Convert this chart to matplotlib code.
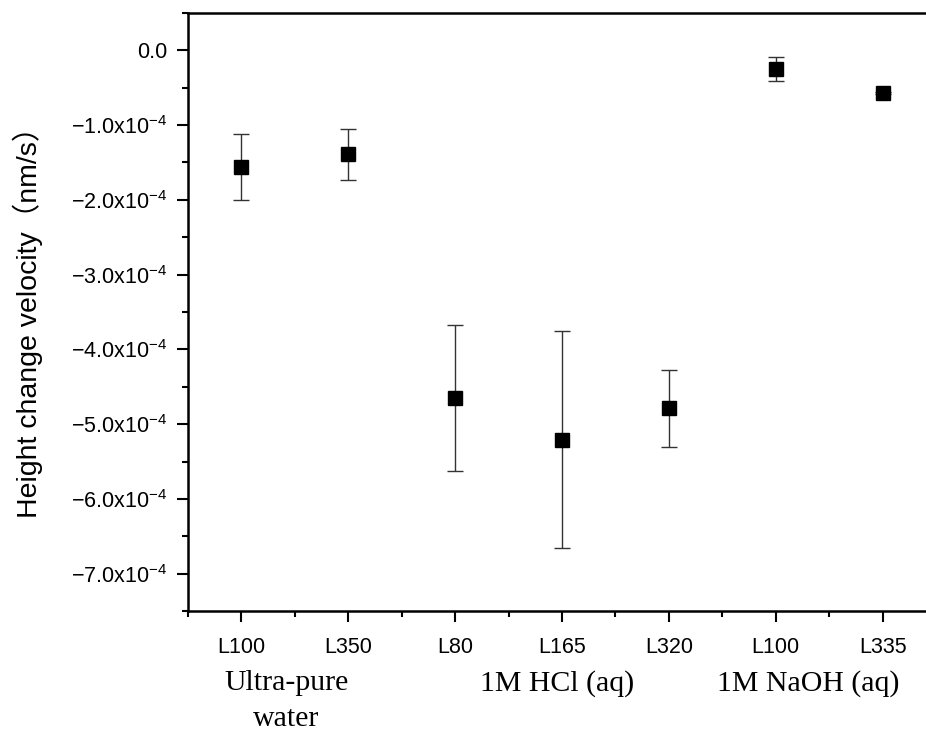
import numpy as np
import matplotlib.pyplot as plt
from matplotlib.ticker import MultipleLocator, FuncFormatter

plt.rcParams['font.family'] = ['Liberation Sans', 'Noto Sans CJK JP', 'DejaVu Sans']
plt.rcParams['mathtext.fontset'] = 'custom'
plt.rcParams['mathtext.rm'] = 'Liberation Sans'
plt.rcParams['mathtext.it'] = 'Liberation Sans'

# data (units of 1e-4 nm/s)
samples = ['L100', 'L350', 'L80', 'L165', 'L320', 'L100', 'L335']
velocity = [-1.56, -1.39, -4.65, -5.21, -4.79, -0.25, -0.57]
err = [0.44, 0.34, 0.98, 1.45, 0.51, 0.16, 0.01]
groups = ['Ultra-pure\nwater', '1M HCl (aq)', '1M NaOH (aq)']
group_pos = [1.42, 3.95, 6.3]

x = np.arange(1, len(samples) + 1)
y = np.array(velocity) * 1e-4
e = np.array(err) * 1e-4

fig = plt.figure(figsize=(9.26, 7.38), dpi=100)
ax = fig.add_axes([188 / 926, 1 - 611 / 738, 748 / 926, 598 / 738])

ax.errorbar(x, y, yerr=e, fmt='s', color='black', ms=9.5,
            ecolor='#333333', elinewidth=1, capsize=6, capthick=1)

ax.set_xlim(0.5, 7.5)
ax.set_ylim(-7.5e-4, 0.5e-4)

ax.spines['right'].set_visible(False)
for s in ['left', 'top', 'bottom']:
    ax.spines[s].set_linewidth(1.8)

ax.set_xticks(x)
ax.set_xticklabels(samples, fontsize=15.5)
ax.xaxis.set_minor_locator(MultipleLocator(0.5))

ax.yaxis.set_major_locator(MultipleLocator(1e-4))
ax.yaxis.set_minor_locator(MultipleLocator(0.5e-4))

def fmt(v, pos):
    m = round(v / 1e-4, 1)
    if abs(m) < 1e-9:
        return '0.0'
    return r'$\mathregular{%s\mathrm{x}10^{-4}}$' % ('%.1f' % m).replace('-', '\u2212')

ax.yaxis.set_major_formatter(FuncFormatter(fmt))
ax.tick_params(axis='y', labelsize=15.5, pad=7)
ax.tick_params(axis='x', pad=11)
ax.tick_params(which='major', length=8, width=1.5, direction='out')
ax.tick_params(which='minor', length=4, width=1.5, direction='out')

ax.set_ylabel('Height change velocity\uff08nm/s\uff09', fontsize=20.5)
ax.yaxis.set_label_coords(-0.194, 0.495)

for g, p in zip(groups, group_pos):
    ax.text(p, -8.29e-4, g, ha='center', va='top',
            fontsize=21.5, family='Liberation Serif', ma='center',
            linespacing=1.5)

fig.savefig('out.png', dpi=100)
